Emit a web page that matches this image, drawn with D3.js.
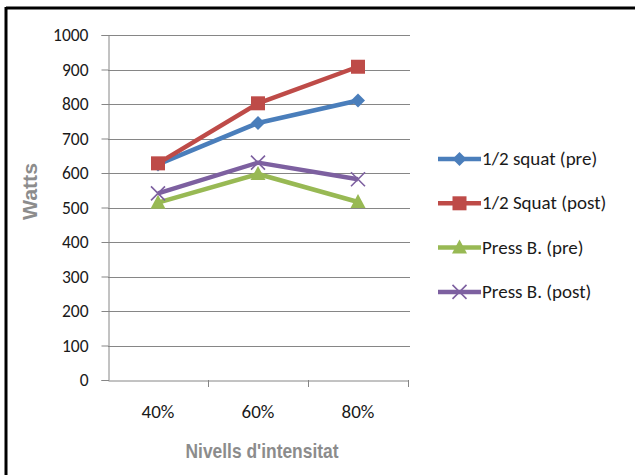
<!DOCTYPE html>
<html>
<head>
<meta charset="utf-8">
<script src="https://cdn.jsdelivr.net/npm/d3@7"></script>
<style>
  html, body { margin: 0; padding: 0; background: #fff; }
  svg { display: block; }
</style>
</head>
<body>
<svg id="chart" width="635" height="475"></svg>
<script>
// Intensity levels along the x axis
const categories = ["40%", "60%", "80%"];

// Power output (Watts) for each exercise and test moment
const squatPre   = [625, 745, 810];
const squatPost  = [628, 802, 908];
const pressPre   = [514, 597, 516];
const pressPost  = [541, 630, 582];

const seriesNames = ["1/2 squat (pre)", "1/2 Squat (post)", "Press B. (pre)", "Press B. (post)"];
const yTicks = [0, 100, 200, 300, 400, 500, 600, 700, 800, 900, 1000];

const series = [
  { name: seriesNames[0], values: squatPre,  color: "#4A7EBB", marker: "diamond" },
  { name: seriesNames[1], values: squatPost, color: "#BE4B48", marker: "square" },
  { name: seriesNames[2], values: pressPre,  color: "#98B954", marker: "triangle" },
  { name: seriesNames[3], values: pressPost, color: "#7D60A0", marker: "cross" }
];

const svg = d3.select("#chart");

// Outer frame: top and left edges
svg.append("line").attr("x1", 6).attr("x2", 635).attr("y1", 8).attr("y2", 8)
  .attr("stroke", "#000").attr("stroke-width", 3);
svg.append("line").attr("x1", 6).attr("x2", 6).attr("y1", 7).attr("y2", 475)
  .attr("stroke", "#000").attr("stroke-width", 3);

const plot = { left: 108, right: 408, top: 35, bottom: 380 };

const x = d3.scaleBand().domain(categories).range([plot.left, plot.right]);
const y = d3.scaleLinear().domain([0, 1000]).range([plot.bottom, plot.top]);

const tickFont = "Carlito, 'Open Sans', 'Liberation Sans', sans-serif";
const titleFont = "'Liberation Sans Narrow', 'Arial Narrow', sans-serif";

// Horizontal gridlines
svg.append("g")
  .selectAll("line")
  .data(yTicks.filter(d => d > 0))
  .join("line")
  .attr("x1", plot.left).attr("x2", plot.right + 2)
  .attr("y1", d => Math.round(y(d)) + 0.5).attr("y2", d => Math.round(y(d)) + 0.5)
  .attr("stroke", "#868686").attr("stroke-width", 1);

// Y axis
const yAxis = svg.append("g")
  .attr("transform", `translate(${plot.left + 0.5},0)`)
  .call(d3.axisLeft(y).tickValues(yTicks).tickSize(7).tickPadding(13).tickFormat(d3.format("d")));
yAxis.select(".domain").attr("stroke", "#868686");
yAxis.selectAll(".tick line").attr("stroke", "#868686");
yAxis.selectAll(".tick text")
  .attr("fill", "#1a1a1a")
  .attr("dy", "0.34em")
  .style("font-family", tickFont)
  .style("font-size", "17.5px");

// X axis
const xAxis = svg.append("g")
  .attr("transform", `translate(0,${plot.bottom + 0.5})`)
  .call(d3.axisBottom(x).tickSizeOuter(0).tickSize(0).tickPadding(0));
xAxis.select(".domain").attr("stroke", "#868686");
xAxis.selectAll(".tick text")
  .attr("fill", "#1a1a1a")
  .attr("dy", null)
  .attr("y", 37)
  .style("font-family", tickFont)
  .style("font-size", "19px");
// Category boundary tick marks
svg.append("g")
  .selectAll("line")
  .data(categories)
  .join("line")
  .attr("x1", d => Math.round(x(d) + x.bandwidth()) + 0.5)
  .attr("x2", d => Math.round(x(d) + x.bandwidth()) + 0.5)
  .attr("y1", plot.bottom).attr("y2", plot.bottom + 7)
  .attr("stroke", "#868686");

// Axis titles
svg.append("text")
  .attr("x", 262).attr("y", 458)
  .attr("text-anchor", "middle")
  .attr("fill", "#8c8c8c")
  .attr("textLength", 153)
  .attr("lengthAdjust", "spacingAndGlyphs")
  .style("font-family", titleFont)
  .style("font-weight", "bold")
  .style("font-size", "21px")
  .text("Nivells d'intensitat");

svg.append("text")
  .attr("transform", "translate(37,191.5) rotate(-90)")
  .attr("text-anchor", "middle")
  .attr("fill", "#8c8c8c")
  .attr("textLength", 57)
  .attr("lengthAdjust", "spacingAndGlyphs")
  .style("font-family", titleFont)
  .style("font-weight", "bold")
  .style("font-size", "20px")
  .text("Watts");

// Marker drawing
function drawMarker(g, type, color, cx, cy) {
  if (type === "diamond") {
    g.append("path")
      .attr("d", `M${cx},${cy - 7}L${cx + 7},${cy}L${cx},${cy + 7}L${cx - 7},${cy}Z`)
      .attr("fill", color);
  } else if (type === "square") {
    g.append("rect").attr("x", cx - 7).attr("y", cy - 7).attr("width", 14).attr("height", 14)
      .attr("fill", color);
  } else if (type === "triangle") {
    g.append("path")
      .attr("d", `M${cx},${cy - 8}L${cx + 7.5},${cy + 6}L${cx - 7.5},${cy + 6}Z`)
      .attr("fill", color);
  } else if (type === "cross") {
    g.append("path")
      .attr("d", `M${cx - 7},${cy - 7}L${cx + 7},${cy + 7}M${cx + 7},${cy - 7}L${cx - 7},${cy + 7}`)
      .attr("stroke", color).attr("stroke-width", 1.6).attr("fill", "none");
  }
}

const cxOf = c => x(c) + x.bandwidth() / 2;
const line = d3.line().x((d, i) => cxOf(categories[i])).y(d => y(d));

// Series lines and markers, drawn bottom-up so squat lines sit on top
const drawOrder = [2, 3, 0, 1];
drawOrder.forEach(k => {
  const s = series[k];
  const g = svg.append("g");
  g.append("path")
    .datum(s.values)
    .attr("d", line)
    .attr("fill", "none")
    .attr("stroke", s.color)
    .attr("stroke-width", 4.5)
    .attr("stroke-linejoin", "round");
  s.values.forEach((v, i) => drawMarker(g, s.marker, s.color, cxOf(categories[i]), y(v)));
});

// Legend
const legend = svg.append("g");
series.forEach((s, i) => {
  const ly = 159 + i * 44.3;
  const g = legend.append("g");
  g.append("line")
    .attr("x1", 438).attr("x2", 481).attr("y1", ly).attr("y2", ly)
    .attr("stroke", s.color).attr("stroke-width", 4.5);
  drawMarker(g, s.marker, s.color, 459.5, ly);
  g.append("text")
    .attr("x", 482).attr("y", ly + 6)
    .attr("fill", "#1a1a1a")
    .style("font-family", tickFont)
    .style("font-size", "19px")
    .text(s.name);
});
</script>
</body>
</html>
